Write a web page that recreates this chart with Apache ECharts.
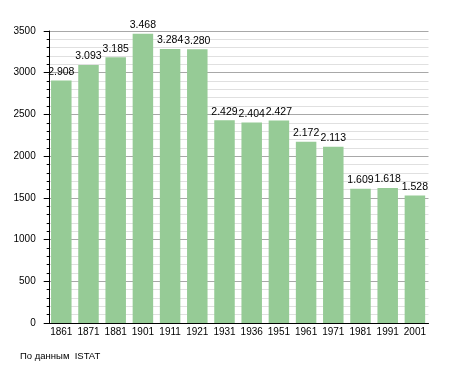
<!DOCTYPE html>
<html><head><meta charset="utf-8">
<script src="https://cdn.jsdelivr.net/npm/echarts@6/dist/echarts.min.js"></script>
<style>html,body{margin:0;padding:0;background:#fff}#c{width:455px;height:373px}</style>
</head><body><div id="c"></div>
<script>
var years = ['1861','1871','1881','1901','1911','1921','1931','1936','1951','1961','1971','1981','1991','2001'];
var population = [2908,3093,3185,3468,3284,3280,2429,2404,2427,2172,2113,1609,1618,1528];
var yTicks = [0,500,1000,1500,2000,2500,3000,3500];
var sourceText = 'По данным  ISTAT';

var chart = echarts.init(document.getElementById('c'), null, {renderer:'canvas'});
var font = 'Liberation Sans, Arial, sans-serif';
chart.setOption({
  animation:false,
  backgroundColor:'#fff',
  grid:{left:47.7,top:31,width:380.8,height:292},
  xAxis:{type:'category',data:years,
    axisLine:{lineStyle:{color:'#000',width:1}},
    axisTick:{show:false},
    axisLabel:{color:'#000',fontFamily:font,fontSize:10,margin:4,interval:0}},
  yAxis:{type:'value',min:yTicks[0],max:yTicks[yTicks.length-1],interval:500,offset:-2,
    axisLine:{show:true,lineStyle:{color:'#000'}},
    axisTick:{show:true,length:6,lineStyle:{color:'#000'}},
    minorTick:{show:true,splitNumber:5,length:3,lineStyle:{color:'#000'}},
    splitLine:{show:true,lineStyle:{color:'#a8a8a8',width:1}},
    minorSplitLine:{show:true,lineStyle:{color:'#e0e0e0',width:1}},
    axisLabel:{color:'#000',fontFamily:font,fontSize:10,margin:14,formatter:function(v){return String(v);}}},
  series:[{type:'bar',data:population,barWidth:20.5,
    itemStyle:{color:'#96cb96'},
    label:{show:true,position:'top',distance:3,color:'#000',fontFamily:font,fontSize:10.5,
      formatter:function(p){var v=String(p.value);return v.slice(0,v.length-3)+'.'+v.slice(-3);}}}],
  graphic:[{type:'text',left:20,top:351,style:{text:sourceText,fill:'#000',font:'9.5px '+font}}]
});
</script></body></html>
